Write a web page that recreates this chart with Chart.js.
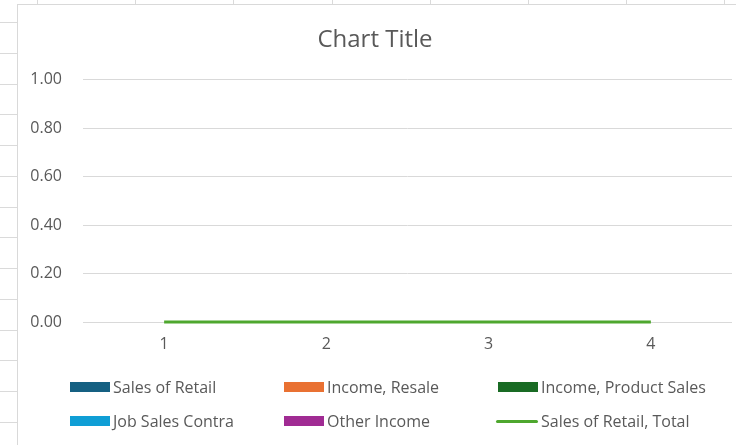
<!DOCTYPE html>
<html>
<head>
<meta charset="utf-8">
<script src="https://cdn.jsdelivr.net/npm/chart.js@4.4.1/dist/chart.umd.min.js"></script>
<style>
  html, body { margin: 0; padding: 0; }
  body {
    width: 736px; height: 445px; overflow: hidden; position: relative;
    background-color: #fff;
    /* spreadsheet cells behind the chart */
    background-image:
      repeating-linear-gradient(to bottom, transparent 0, transparent 22px, #dadada 22px, #dadada 23px, transparent 23px, transparent 30.75px),
      repeating-linear-gradient(to right, transparent 0, transparent 37px, #dadada 37px, #dadada 38px, transparent 38px, transparent 98.2px);
    font-family: "Open Sans", "Liberation Sans", sans-serif;
  }
  #box {
    position: absolute; left: 17px; top: 4px; width: 730px; height: 450px;
    border: 1px solid #d9d9d9; background: #fff;
  }
  #wrap { position: absolute; left: 0; top: 0; width: 718px; height: 441px; }
  #legend { position: absolute; left: 0; top: 0; width: 718px; height: 441px; pointer-events: none; }
  .item { position: absolute; display: flex; align-items: center; font-size: 16px; color: #595959; white-space: nowrap; height: 24px; }
  .sw { width: 40px; height: 10px; margin-right: 3px; }
  .sw.line { height: 3px; width: 42px; margin-left: -2px; border-radius: 2px; }
</style>
</head>
<body>
<div id="box">
  <div id="wrap"><canvas id="myChart" width="718" height="441"></canvas></div>
  <div id="legend"></div>
</div>
<script>
// categories and series
const categories = ['1', '2', '3', '4'];
const seriesNames = ['Sales of Retail', 'Income, Resale', 'Income, Product Sales', 'Job Sales Contra', 'Other Income', 'Sales of Retail, Total'];
const seriesColors = ['#156082', '#E97132', '#196B24', '#0F9ED5', '#A02B93', '#4EA72E'];
const salesOfRetail = [0, 0, 0, 0];
const incomeResale = [0, 0, 0, 0];
const incomeProductSales = [0, 0, 0, 0];
const jobSalesContra = [0, 0, 0, 0];
const otherIncome = [0, 0, 0, 0];
const salesOfRetailTotal = [0, 0, 0, 0];
const yTicks = [0, 0.2, 0.4, 0.6, 0.8, 1.0];

const barValues = [salesOfRetail, incomeResale, incomeProductSales, jobSalesContra, otherIncome];

const datasets = barValues.map((vals, i) => ({
  type: 'bar',
  label: seriesNames[i],
  data: vals,
  backgroundColor: seriesColors[i],
  borderWidth: 0,
  order: 1
}));
datasets.push({
  type: 'line',
  label: seriesNames[5],
  data: salesOfRetailTotal,
  borderColor: seriesColors[5],
  backgroundColor: seriesColors[5],
  borderWidth: 3,
  pointRadius: 0,
  fill: false,
  clip: false,
  order: 0
});

const grey = '#595959';
const fontFam = '"Open Sans", "Liberation Sans", sans-serif';

const ctx = document.getElementById('myChart').getContext('2d');
const chart = new Chart(ctx, {
  type: 'bar',
  data: { labels: categories, datasets: datasets },
  options: {
    responsive: false,
    animation: false,
    layout: { padding: { left: 0, right: 4, top: 0, bottom: 0 } },
    plugins: {
      legend: { display: false },
      tooltip: { enabled: false },
      title: {
        display: true,
        text: 'Chart Title',
        color: grey,
        font: { family: fontFam, size: 24, weight: 'normal' },
        padding: { top: 21, bottom: 25 }
      }
    },
    scales: {
      x: {
        grid: { display: false, drawTicks: false },
        border: { display: false },
        ticks: { color: grey, font: { family: fontFam, size: 16 }, padding: 13 },
        afterFit: (scale) => { scale.height = 124; }
      },
      y: {
        min: 0,
        max: 1,
        afterBuildTicks: (scale) => { scale.ticks = yTicks.map(v => ({ value: v })); },
        grid: { color: '#d9d9d9', lineWidth: 1, drawTicks: false },
        border: { display: false },
        ticks: {
          color: grey,
          font: { family: fontFam, size: 16 },
          padding: 21,
          callback: (v) => Number(v).toFixed(2)
        },
        afterFit: (scale) => { scale.width = 65; }
      }
    }
  }
});

// legend laid out in Excel's 3 x 2 grid (x of swatch, y of row centre, box coords)
const legendCols = [52, 266, 480];
const legendRows = [382, 416];
const legend = document.getElementById('legend');
seriesNames.forEach((name, idx) => {
  const it = document.createElement('div');
  it.className = 'item';
  it.style.left = legendCols[idx % 3] + 'px';
  it.style.top = (legendRows[Math.floor(idx / 3)] - 12) + 'px';
  const sw = document.createElement('span');
  sw.className = idx === 5 ? 'sw line' : 'sw';
  sw.style.background = seriesColors[idx];
  const tx = document.createElement('span');
  tx.textContent = name;
  it.appendChild(sw);
  it.appendChild(tx);
  legend.appendChild(it);
});
</script>
</body>
</html>
